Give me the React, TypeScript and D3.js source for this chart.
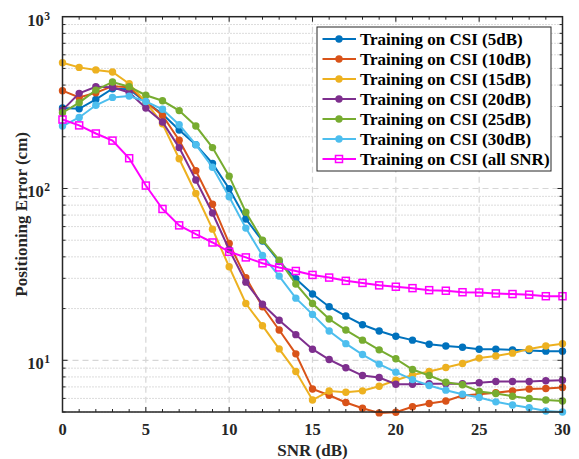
import React from "react";
import * as d3 from "d3";

const snr = d3.range(0, 31);
const seriesNames = [
  "Training on CSI (5dB)",
  "Training on CSI (10dB)",
  "Training on CSI (15dB)",
  "Training on CSI (20dB)",
  "Training on CSI (25dB)",
  "Training on CSI (30dB)",
  "Training on CSI (all SNR)",
];
const csi5 = [294, 291, 330, 381, 378, 318, 271, 219, 180, 140, 99.6, 66.5, 49.5, 37.6, 29.8, 24.3, 20.5, 18.1, 16.1, 14.8, 13.8, 13.1, 12.4, 12.1, 11.9, 11.6, 11.6, 11.5, 11.4, 11.3, 11.3];
const csi10 = [371, 339, 361, 394, 388, 320, 266, 191, 127, 81, 47.9, 30.3, 20.5, 15, 10.9, 6.8, 6.26, 5.68, 5.26, 4.94, 4.98, 5.36, 5.6, 5.8, 6.24, 6.35, 6.47, 6.64, 6.8, 6.85, 6.95];
const csi15 = [540, 507, 490, 477, 407, 318, 238, 149, 93.5, 58, 35, 21.4, 15.9, 11.65, 8.6, 5.87, 6.62, 6.52, 6.64, 7.06, 7.65, 8.22, 8.6, 9.08, 9.57, 10.3, 10.6, 11.0, 11.65, 12.1, 12.5];
const csi20 = [286, 358, 391, 388, 362, 294, 244, 173, 112, 72, 44, 28.5, 21.2, 17.1, 14.1, 11.6, 10.1, 9.05, 8.15, 7.94, 7.26, 7.26, 7.3, 7.3, 7.3, 7.4, 7.53, 7.53, 7.53, 7.6, 7.65];
const csi25 = [276, 316, 374, 417, 391, 349, 324, 284, 231, 173, 118, 72.8, 50, 38.3, 27.8, 21.4, 17.4, 15, 13.1, 11.5, 10.2, 8.84, 8.15, 7.45, 7.2, 6.58, 6.41, 6.18, 6.0, 5.87, 5.8];
const csi30 = [231, 259, 305, 339, 345, 321, 289, 235, 180, 133, 89.5, 58.8, 40.7, 30.9, 23, 18.5, 14.8, 12.5, 10.8, 9.5, 8.53, 7.72, 7.13, 6.7, 6.35, 6.08, 5.73, 5.49, 5.29, 5.07, 5.0];
const csiAll = [252, 233, 209, 190, 150, 104, 76, 61, 54.2, 48.5, 42.8, 39.7, 36.7, 34.7, 33.1, 31.4, 30.3, 29, 28.2, 27.3, 26.8, 26.3, 25.6, 25.4, 24.9, 24.8, 24.5, 24.3, 24.1, 23.6, 23.6];
const seriesValues = [csi5, csi10, csi15, csi20, csi25, csi30, csiAll];
const colors = ["#0072BD", "#D95319", "#EDB120", "#7E2F8E", "#77AC30", "#4DBEEE", "#FF00FF"];
const xTicks = [0, 5, 10, 15, 20, 25, 30];
const yDecades = [1, 2, 3];

const W = 579, H = 459;
const L = 62.5, R = 562.5, T = 16.7, B = 412;
const FONT = "'Liberation Serif', 'Times New Roman', serif";

export default function App() {
  const x = d3.scaleLinear().domain([0, 30]).range([L, R]);
  const y = d3.scaleLog().domain([5, 1000]).range([B, T]);
  const line = d3.line<number>().x((_, i) => x(snr[i])).y((v) => y(v));

  const minorY: number[] = [];
  for (const dec of [1, 10, 100]) for (let k = 2; k <= 9; k++) { const v = k * dec; if (v >= 5 && v < 1000) minorY.push(v); }
  const majorY = [10, 100];
  const minorX = d3.range(0, 31);

  return (
    <svg width={W} height={H} style={{ position: "absolute", left: 0, top: 0, background: "#fff" }} fontFamily={FONT}>
      <rect x={0} y={0} width={W} height={H} fill="#fff" />
      {minorY.map((v) => (
        <line key={"mg" + v} x1={L} x2={R} y1={y(v)} y2={y(v)} stroke="#b8b8b8" strokeWidth={1} strokeDasharray="1,2" />
      ))}
      {majorY.map((v) => (
        <line key={"Mg" + v} x1={L} x2={R} y1={y(v)} y2={y(v)} stroke="#d6d6d6" strokeWidth={1.2} strokeDasharray="6,4" />
      ))}
      {xTicks.slice(1, -1).map((t) => (
        <line key={"xg" + t} x1={x(t)} x2={x(t)} y1={T} y2={B} stroke="#d6d6d6" strokeWidth={1.2} strokeDasharray="6,4" />
      ))}
      {seriesValues.map((vals, si) => (
        <g key={"s" + si}>
          <path d={line(vals) || ""} fill="none" stroke={colors[si]} strokeWidth={2} />
          {vals.map((v, i) =>
            si === 6 ? (
              <rect key={i} x={x(snr[i]) - 3.5} y={y(v) - 3.5} width={7} height={7} fill="none" stroke={colors[si]} strokeWidth={1.5} />
            ) : (
              <circle key={i} cx={x(snr[i])} cy={y(v)} r={3.7} fill={colors[si]} />
            )
          )}
        </g>
      ))}
      {minorX.map((t) => {
        const len = t % 5 === 0 ? 5 : 3;
        return (
          <g key={"xt" + t}>
            <line x1={x(t)} x2={x(t)} y1={B} y2={B - len} stroke="#262626" strokeWidth={1} />
            <line x1={x(t)} x2={x(t)} y1={T} y2={T + len} stroke="#262626" strokeWidth={1} />
          </g>
        );
      })}
      {minorY.map((v) => (
        <g key={"yt" + v}>
          <line x1={L} x2={L + 3} y1={y(v)} y2={y(v)} stroke="#262626" strokeWidth={1} />
          <line x1={R} x2={R - 3} y1={y(v)} y2={y(v)} stroke="#262626" strokeWidth={1} />
        </g>
      ))}
      {majorY.map((v) => (
        <g key={"yT" + v}>
          <line x1={L} x2={L + 5} y1={y(v)} y2={y(v)} stroke="#262626" strokeWidth={1} />
          <line x1={R} x2={R - 5} y1={y(v)} y2={y(v)} stroke="#262626" strokeWidth={1} />
        </g>
      ))}
      <rect x={L} y={T} width={R - L} height={B - T} fill="none" stroke="#262626" strokeWidth={1.5} />
      {xTicks.map((t) => (
        <text key={"xl" + t} x={x(t)} y={435} textAnchor="middle" fontSize={16.5} fontWeight="bold" fill="#262626">{t}</text>
      ))}
      {yDecades.map((d) => (
        <text key={"yl" + d} x={50} y={y(Math.pow(10, d)) + 9} textAnchor="end" fontSize={16.5} fontWeight="bold" fill="#262626">
          10
          <tspan dx={0.5} dy={-6} fontSize={11.5}>{d}</tspan>
        </text>
      ))}
      <text x={(L + R) / 2} y={456} textAnchor="middle" fontSize={17} fontWeight="bold" fill="#262626">SNR (dB)</text>
      <text transform={`translate(27,${(T + B) / 2}) rotate(-90)`} textAnchor="middle" fontSize={17} fontWeight="bold" fill="#262626">Positioning Error (cm)</text>
      <rect x={317} y={27} width={234} height={144} fill="#fff" stroke="#262626" strokeWidth={1} />
      {seriesNames.map((name, i) => {
        const cy = 39 + i * 20;
        return (
          <g key={"lg" + i}>
            <line x1={322.5} x2={356} y1={cy} y2={cy} stroke={colors[i]} strokeWidth={2} />
            {i === 6 ? (
              <rect x={339 - 3.5} y={cy - 3.5} width={7} height={7} fill="none" stroke={colors[i]} strokeWidth={1.5} />
            ) : (
              <circle cx={339} cy={cy} r={3.7} fill={colors[i]} />
            )}
            <text x={360} y={cy + 6} fontSize={17} fontWeight="bold" fill="#000">{name}</text>
          </g>
        );
      })}
    </svg>
  );
}
